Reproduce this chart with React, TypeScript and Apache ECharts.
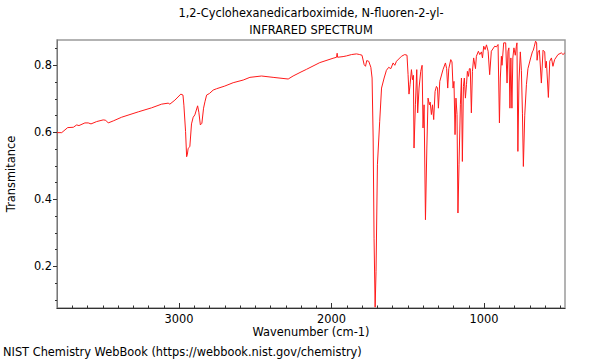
import React, { useEffect, useRef } from "react";
import * as echarts from "echarts";

const titleLines = ["1,2-Cyclohexanedicarboximide, N-fluoren-2-yl-", "INFRARED SPECTRUM"];
const xAxisName = "Wavenumber (cm-1)";
const yAxisName = "Transmitance";
const footer = "NIST Chemistry WebBook (https://webbook.nist.gov/chemistry)";

const xMajorTicks = [1000, 2000, 3000];
const yMajorTicks = [0.2, 0.4, 0.6, 0.8];

const wavenumbers = [
  3800, 3769, 3730, 3693, 3671, 3656, 3617, 3595, 3577, 3540, 3497, 3481, 3464, 3431, 3376, 3267, 3180, 3114,
  3071, 3060, 3027, 2988, 2974, 2968, 2957, 2950, 2945, 2940, 2929, 2918, 2907, 2896, 2878, 2870, 2860, 2850,
  2839, 2830, 2819, 2800, 2776, 2754, 2700, 2645, 2579, 2535, 2459, 2383, 2284, 2252, 2200, 2164, 2077, 1990,
  1967, 1963, 1960, 1924, 1902, 1869, 1836, 1815, 1800, 1786, 1777, 1769, 1756, 1742, 1734, 1727, 1721, 1714,
  1708, 1699, 1684, 1672, 1655, 1640, 1625, 1611, 1596, 1585, 1574, 1541, 1520, 1505, 1498, 1492, 1485, 1476,
  1469, 1463, 1459, 1450, 1441, 1435, 1426, 1415, 1406, 1400, 1393, 1384, 1375, 1367, 1358, 1353, 1345, 1338,
  1330, 1321, 1312, 1305, 1299, 1290, 1269, 1253, 1245, 1238, 1231, 1218, 1210, 1203, 1197, 1190, 1184, 1177,
  1171, 1164, 1155, 1148, 1142, 1135, 1129, 1122, 1115, 1109, 1102, 1096, 1090, 1083, 1076, 1068, 1056, 1050,
  1037, 1028, 1017, 1010, 1002, 993, 984, 973, 963, 952, 930, 919, 908, 899, 893, 886, 882, 871, 858, 849, 843,
  837, 830, 824, 817, 811, 804, 795, 788, 784, 778, 771, 762, 755, 748, 742, 733, 722, 712, 694, 683, 677, 670,
  662, 655, 652, 646, 637, 624, 613, 602, 597, 591, 578, 569, 558, 548, 537, 515, 493, 482, 470,
];

const transmittance = [
  0.599, 0.599, 0.614, 0.615, 0.622, 0.62, 0.628, 0.628, 0.625, 0.632, 0.637, 0.636, 0.628, 0.634, 0.645, 0.661,
  0.673, 0.684, 0.687, 0.684, 0.696, 0.714, 0.711, 0.681, 0.602, 0.527, 0.535, 0.552, 0.557, 0.625, 0.645, 0.652,
  0.679, 0.66, 0.622, 0.627, 0.672, 0.691, 0.711, 0.716, 0.726, 0.73, 0.738, 0.748, 0.756, 0.764, 0.768, 0.764,
  0.759, 0.768, 0.78, 0.788, 0.808, 0.821, 0.824, 0.836, 0.824, 0.826, 0.828, 0.832, 0.834, 0.832, 0.83, 0.802,
  0.797, 0.814, 0.812, 0.794, 0.762, 0.583, 0.284, 0.078, 0.185, 0.503, 0.633, 0.732, 0.762, 0.785, 0.794, 0.79,
  0.807, 0.8, 0.812, 0.827, 0.832, 0.83, 0.772, 0.714, 0.742, 0.787, 0.757, 0.77, 0.553, 0.682, 0.787, 0.658,
  0.732, 0.782, 0.8, 0.613, 0.682, 0.339, 0.553, 0.702, 0.682, 0.69, 0.653, 0.682, 0.638, 0.722, 0.737, 0.732,
  0.672, 0.752, 0.787, 0.807, 0.79, 0.732, 0.79, 0.817, 0.81, 0.732, 0.752, 0.593, 0.702, 0.653, 0.359, 0.503,
  0.682, 0.762, 0.513, 0.737, 0.762, 0.702, 0.742, 0.782, 0.767, 0.79, 0.79, 0.658, 0.782, 0.822, 0.79, 0.827,
  0.842, 0.832, 0.84, 0.822, 0.857, 0.847, 0.861, 0.842, 0.772, 0.842, 0.857, 0.855, 0.862, 0.628, 0.762, 0.827,
  0.8, 0.867, 0.867, 0.747, 0.842, 0.852, 0.672, 0.822, 0.672, 0.822, 0.852, 0.83, 0.857, 0.867, 0.543, 0.75,
  0.84, 0.785, 0.657, 0.498, 0.651, 0.742, 0.79, 0.822, 0.84, 0.845, 0.857, 0.872, 0.867, 0.815, 0.84, 0.845,
  0.747, 0.845, 0.84, 0.792, 0.812, 0.704, 0.812, 0.822, 0.797, 0.817, 0.832, 0.837, 0.832, 0.837,
];

const X_MIN = 469;
const X_MAX = 3800;
const Y_MIN = 0.0755;
const Y_MAX = 0.8755;

const xMinorTicks: number[] = [];
for (let v = 500; v <= 3700; v += 100) if (v % 1000 !== 0) xMinorTicks.push(v);
const yMinorTicks: number[] = [];
for (let k = 2; k <= 17; k++) {
  const v = Math.round(k * 5) / 100;
  if (k % 4 !== 0) yMinorTicks.push(v);
}

const FONT = "DejaVu Sans";
const FS = 11.4;

export default function App() {
  const ref = useRef<HTMLDivElement>(null);
  useEffect(() => {
    if (!ref.current) return;
    const chart = echarts.init(ref.current, undefined, { renderer: "svg" });
    const data = wavenumbers.map((w, i) => [w, transmittance[i]]);
    chart.setOption({
      animation: false,
      backgroundColor: "#ffffff",
      grid: {
        left: 57,
        right: 35,
        top: 40,
        bottom: 52,
        show: true,
        borderColor: "#9a9a9a",
        borderWidth: 1.5,
        backgroundColor: "transparent",
      },
      xAxis: [
        {
          type: "value",
          min: X_MIN,
          max: X_MAX,
          inverse: true,
          position: "bottom",
          axisLine: { show: true, lineStyle: { color: "#333", width: 1 } },
          axisTick: { show: true, inside: true, length: 5, customValues: xMajorTicks, lineStyle: { color: "#333" } },
          axisLabel: {
            customValues: xMajorTicks,
            fontSize: FS,
            fontFamily: FONT,
            color: "#000",
            margin: 5,
            formatter: (v: number) => String(Math.round(v)),
          },
          splitLine: { show: false },
        },
        {
          type: "value",
          min: X_MIN,
          max: X_MAX,
          inverse: true,
          position: "bottom",
          axisLine: { show: false },
          axisTick: { show: true, inside: true, length: 2.5, customValues: xMinorTicks, lineStyle: { color: "#333" } },
          axisLabel: { show: false },
          splitLine: { show: false },
        },
      ],
      yAxis: [
        {
          type: "value",
          min: Y_MIN,
          max: Y_MAX,
          position: "left",
          axisLine: { show: true, lineStyle: { color: "#777", width: 1 } },
          axisTick: { show: true, inside: false, length: 4, customValues: yMajorTicks, lineStyle: { color: "#333" } },
          axisLabel: {
            customValues: yMajorTicks,
            fontSize: FS,
            fontFamily: FONT,
            color: "#000",
            margin: 5,
            formatter: (v: number) => v.toFixed(1),
          },
          splitLine: { show: false },
        },
        {
          type: "value",
          min: Y_MIN,
          max: Y_MAX,
          position: "left",
          axisLine: { show: false },
          axisTick: { show: true, inside: false, length: 2, customValues: yMinorTicks, lineStyle: { color: "#333" } },
          axisLabel: { show: false },
          splitLine: { show: false },
        },
      ],
      series: [
        {
          type: "line",
          xAxisIndex: 0,
          yAxisIndex: 0,
          data,
          showSymbol: false,
          symbol: "none",
          clip: true,
          lineStyle: { color: "#ff1a1a", width: 1 },
        },
      ],
      graphic: [
        {
          type: "text",
          x: 311,
          y: 13,
          style: { text: titleLines[0], fontSize: FS, fontFamily: FONT, fill: "#000", textAlign: "center", textVerticalAlign: "middle" },
        },
        {
          type: "text",
          x: 311,
          y: 30,
          style: { text: titleLines[1], fontSize: FS, fontFamily: FONT, fill: "#000", textAlign: "center", textVerticalAlign: "middle" },
        },
        {
          type: "text",
          x: 311,
          y: 332,
          style: { text: xAxisName, fontSize: FS, fontFamily: FONT, fill: "#000", textAlign: "center", textVerticalAlign: "middle" },
        },
        {
          type: "text",
          x: 11,
          y: 174,
          rotation: Math.PI / 2,
          style: { text: yAxisName, fontSize: FS, fontFamily: FONT, fill: "#000", textAlign: "center", textVerticalAlign: "middle" },
        },
        {
          type: "text",
          x: 3,
          y: 352,
          style: { text: footer, fontSize: FS, fontFamily: FONT, fill: "#000", textAlign: "left", textVerticalAlign: "middle" },
        },
      ],
    });
    return () => chart.dispose();
  }, []);
  return <div ref={ref} style={{ position: "fixed", left: 0, top: 0, width: 600, height: 360 }} />;
}
